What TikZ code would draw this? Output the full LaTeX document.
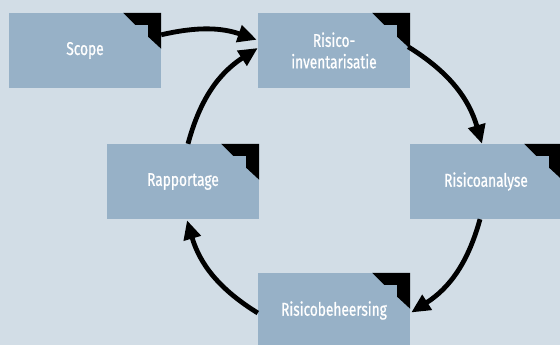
\documentclass[tikz,border=0pt]{standalone}
\usepackage{fontspec}
\setmainfont{Fira Sans}[FakeStretch=0.74,FakeBold=0.8]
\usetikzlibrary{calc,arrows.meta}
\definecolor{bgcol}{HTML}{D2DDE6}
\definecolor{boxcol}{HTML}{97B1C7}
\newcommand\dogear[1]{\fill[black] (#1.north east) -- ++(0,36) -- ++(-13,-12) -- ++(0,-12) -- ++(-13,0) -- ++(-12,-12) -- cycle;}
\tikzset{
  stepbox/.style={fill=boxcol, text=white, minimum width=152pt, minimum height=75pt, inner sep=0pt, align=center,
    font=\fontsize{18.5}{21.5}\selectfont},
  arr/.style={line width=4.8pt, -{Triangle[length=19pt,width=17pt]}},
}
\begin{document}
\begin{tikzpicture}[x=1pt,y=-1pt]
\fill[bgcol] (0,0) rectangle (560,345);
\useasboundingbox (0,0) rectangle (560,345);
\node[stepbox] (scope) at (85,50.5) {Scope};
\node[stepbox] (ri) at (334,50.5) {Risico-\\inventarisatie};
\node[stepbox] (rap) at (183,181.5) {Rapportage};
\node[stepbox] (ra) at (486,181.5) {Risicoanalyse};
\node[stepbox] (rb) at (334,310.5) {Risicobeheersing};
\dogear{scope}
\dogear{ri}
\dogear{rap}
\dogear{ra}
\dogear{rb}
\draw[arr] ($(scope.north east)+(0,22)$) to[bend left=16] ($(ri.north west)+(-1,27)$);
\draw[arr] ($(rap.north)+(5,0)$) to[bend left=21] ($(ri.west)+(0,-2.5)$);
\draw[arr] ($(ri.north east)+(-2,34)$) to[bend left=21] ($(ra.north)+(-4,0)$);
\draw[arr] ($(ra.south)+(-6,0)$) to[bend left=21] ($(rb.east)+(1,2)$);
\draw[arr] ($(rb.west)+(0,2.5)$) to[bend left=21] ($(rap.south)+(4,1)$);
\end{tikzpicture}
\end{document}
